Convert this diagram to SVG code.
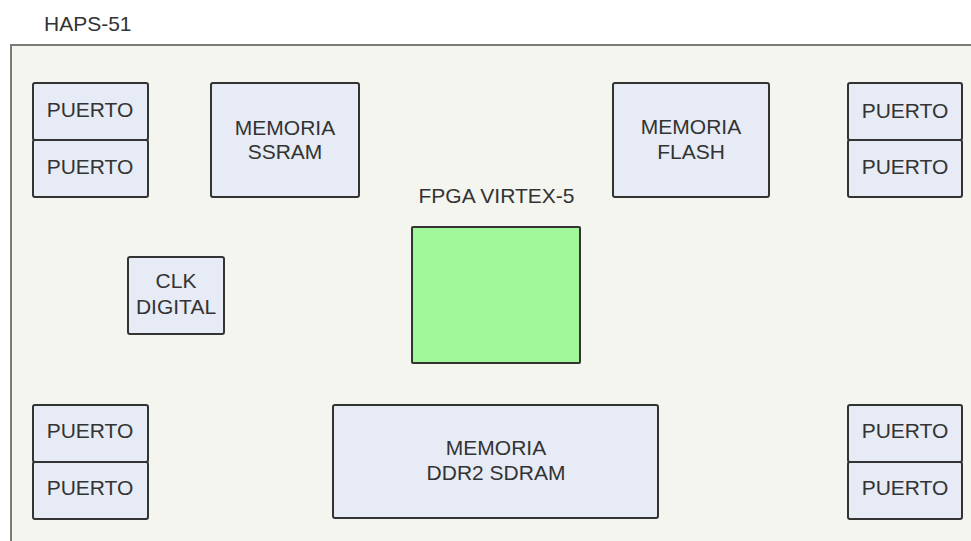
<svg xmlns="http://www.w3.org/2000/svg" width="971" height="541" viewBox="0 0 971 541">
<style>
.frame{fill:#f4f5ef;stroke:#7a7a7a;stroke-width:2}
.box{fill:#e6ebf6;stroke:#333;stroke-width:2}
.fpga{fill:#a0f79a;stroke:#333;stroke-width:2}
text{font-family:"Liberation Sans",Arial,sans-serif;font-size:21px;fill:#333;text-anchor:middle}
.lbl{text-anchor:start}
</style>
<rect width="971" height="541" fill="#ffffff"/>
<g id="board">
<rect class="frame" x="11" y="45" width="990" height="530"/>
<text class="lbl" x="44" y="31">HAPS-51</text>
</g>
<g id="puerto-tl">
<rect class="box" x="33" y="83" width="115" height="57" rx="2"/>
<rect class="box" x="33" y="140" width="115" height="57" rx="2"/>
<text x="90" y="117">PUERTO</text>
<text x="90" y="174">PUERTO</text>
</g>
<g id="ssram">
<rect class="box" x="211" y="83" width="148" height="114" rx="2"/>
<text x="285" y="135">MEMORIA</text>
<text x="285" y="159">SSRAM</text>
</g>
<g id="flash">
<rect class="box" x="613" y="83" width="156" height="114" rx="2"/>
<text x="691" y="134">MEMORIA</text>
<text x="691" y="159">FLASH</text>
</g>
<g id="puerto-tr">
<rect class="box" x="848" y="83" width="114" height="57" rx="2"/>
<rect class="box" x="848" y="140" width="114" height="57" rx="2"/>
<text x="905" y="118">PUERTO</text>
<text x="905" y="174">PUERTO</text>
</g>
<g id="clk">
<rect class="box" x="128" y="257" width="96" height="77" rx="2"/>
<text x="176" y="288">CLK</text>
<text x="176" y="314">DIGITAL</text>
</g>
<g id="fpga">
<text x="496.5" y="203">FPGA VIRTEX-5</text>
<rect class="fpga" x="412" y="227" width="168" height="136" rx="1"/>
</g>
<g id="puerto-bl">
<rect class="box" x="33" y="405" width="115" height="57" rx="2"/>
<rect class="box" x="33" y="462" width="115" height="57" rx="2"/>
<text x="90" y="438">PUERTO</text>
<text x="90" y="495">PUERTO</text>
</g>
<g id="ddr2">
<rect class="box" x="333" y="405" width="325" height="113" rx="2"/>
<text x="496" y="455">MEMORIA</text>
<text x="496" y="480">DDR2 SDRAM</text>
</g>
<g id="puerto-br">
<rect class="box" x="848" y="405" width="114" height="57" rx="2"/>
<rect class="box" x="848" y="462" width="114" height="57" rx="2"/>
<text x="905" y="438">PUERTO</text>
<text x="905" y="495">PUERTO</text>
</g>
<g id="connectors"></g>
</svg>
